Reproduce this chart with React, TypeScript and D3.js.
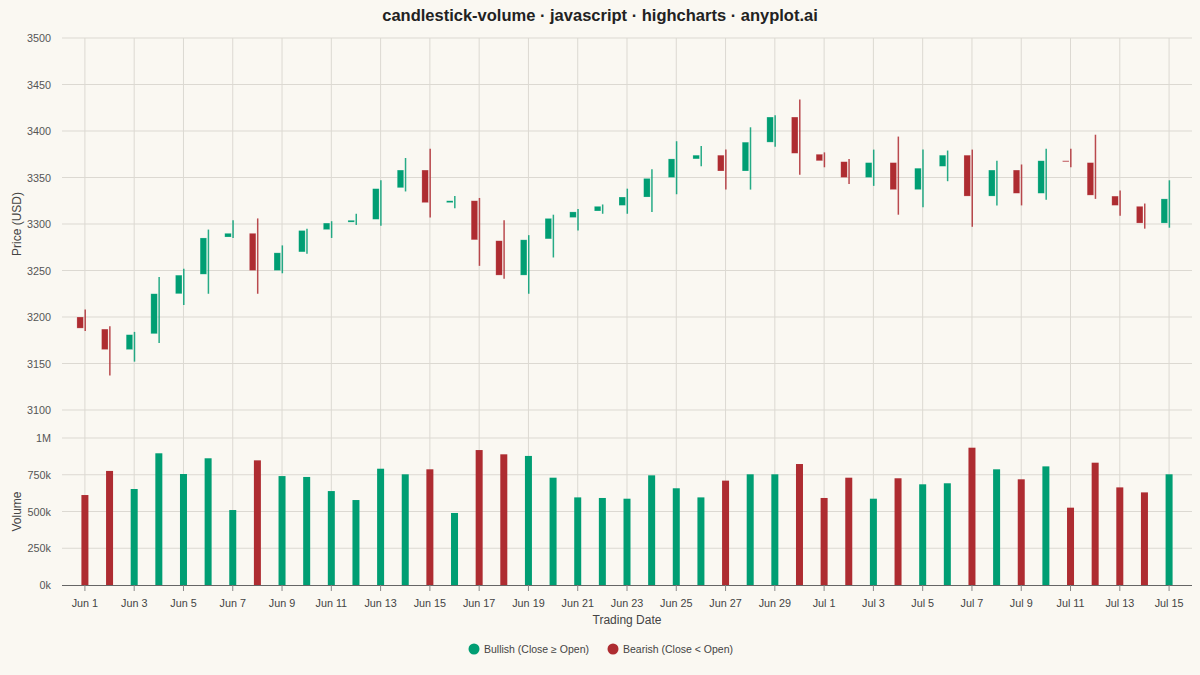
import React, { useEffect } from 'react';
import * as d3 from 'd3';

// Trading days, Jun 1 – Jul 15
const dates = [
  'Jun 1', 'Jun 2', 'Jun 3', 'Jun 4', 'Jun 5', 'Jun 6', 'Jun 7', 'Jun 8', 'Jun 9', 'Jun 10',
  'Jun 11', 'Jun 12', 'Jun 13', 'Jun 14', 'Jun 15', 'Jun 16', 'Jun 17', 'Jun 18', 'Jun 19', 'Jun 20',
  'Jun 21', 'Jun 22', 'Jun 23', 'Jun 24', 'Jun 25', 'Jun 26', 'Jun 27', 'Jun 28', 'Jun 29', 'Jun 30',
  'Jul 1', 'Jul 2', 'Jul 3', 'Jul 4', 'Jul 5', 'Jul 6', 'Jul 7', 'Jul 8', 'Jul 9', 'Jul 10',
  'Jul 11', 'Jul 12', 'Jul 13', 'Jul 14', 'Jul 15',
];

const open = [3200, 3187, 3165, 3182, 3225, 3246, 3286, 3290, 3250, 3270, 3294, 3302, 3305, 3339, 3358, 3323, 3325, 3282, 3245, 3284, 3307, 3314, 3320, 3329, 3350, 3370, 3374, 3357, 3388, 3415, 3375, 3367, 3350, 3366, 3337, 3362, 3374, 3330, 3358, 3333, 3368, 3366, 3330, 3319, 3301];
const high = [3208, 3190, 3184, 3243, 3252, 3294, 3304, 3306, 3277, 3295, 3303, 3311, 3347, 3371, 3381, 3330, 3328, 3304, 3288, 3310, 3316, 3321, 3338, 3359, 3389, 3384, 3380, 3404, 3417, 3434, 3377, 3370, 3380, 3394, 3380, 3379, 3380, 3368, 3364, 3381, 3381, 3396, 3336, 3322, 3347];
const low = [3185, 3137, 3152, 3172, 3213, 3225, 3285, 3225, 3247, 3268, 3285, 3299, 3298, 3335, 3307, 3317, 3255, 3241, 3225, 3264, 3293, 3311, 3311, 3313, 3332, 3362, 3337, 3337, 3383, 3353, 3361, 3343, 3341, 3310, 3318, 3346, 3297, 3320, 3320, 3326, 3361, 3327, 3309, 3295, 3296];
const close = [3188, 3165, 3181, 3225, 3245, 3285, 3290, 3250, 3269, 3293, 3301, 3304, 3338, 3358, 3323, 3325, 3283, 3245, 3283, 3306, 3313, 3319, 3329, 3349, 3370, 3374, 3357, 3388, 3415, 3376, 3368, 3350, 3366, 3337, 3360, 3374, 3330, 3358, 3333, 3368, 3367, 3331, 3320, 3301, 3327];
const volume = [612, 776, 653, 896, 755, 862, 510, 848, 741, 735, 639, 578, 791, 753, 787, 490, 918, 889, 878, 730, 596, 592, 587, 746, 658, 596, 710, 753, 753, 823, 592, 730, 587, 726, 685, 692, 934, 787, 719, 807, 526, 832, 664, 630, 753].map(v => v * 1000);

const priceTicks = [3100, 3150, 3200, 3250, 3300, 3350, 3400, 3450, 3500];
const volumeTicks = [0, 250000, 500000, 750000, 1000000];
const volumeLabels = ['0k', '250k', '500k', '750k', '1M'];

const BULL = '#009E73';
const BEAR = '#AE2C31';
const BG = '#FAF8F2';
const FONT = '"Liberation Sans", Arial, sans-serif';

const App: React.FC = () => {
  useEffect(() => {
    document.body.style.margin = '0';
    document.body.style.background = BG;
  }, []);

  const left = 62;
  const right = 1192;

  const x = d3.scaleLinear().domain([-0.93, dates.length - 1 + 0.93]).range([left, right]);
  const yPrice = d3.scaleLinear().domain([3100, 3500]).range([410, 38]);
  const yVol = d3.scaleLinear().domain([0, 1000000]).range([585, 438]);

  const tickIdx = dates.map((_, i) => i).filter(i => i % 2 === 0);

  return (
    <svg width={1200} height={675} style={{ display: 'block', background: BG, fontFamily: FONT }}>
      <text x={600} y={21} textAnchor="middle" fontSize={16.5} fontWeight="bold" fill="#222">
        candlestick-volume · javascript · highcharts · anyplot.ai
      </text>

      {/* vertical grid */}
      {tickIdx.map(i => (
        <line key={`vg${i}`} x1={x(i)} x2={x(i)} y1={38} y2={585} stroke="#dcd9d2" strokeWidth={1} />
      ))}

      {/* price grid + labels */}
      {priceTicks.map(t => (
        <g key={`pt${t}`}>
          <line x1={left} x2={right} y1={yPrice(t)} y2={yPrice(t)} stroke="#dcd9d2" strokeWidth={1} />
          <text x={51} y={yPrice(t) + 4} textAnchor="end" fontSize={10.8} fill="#555">{t}</text>
        </g>
      ))}

      {/* volume grid + labels */}
      {volumeTicks.map((t, k) => (
        <g key={`vt${t}`}>
          {t > 0 && <line x1={left} x2={right} y1={yVol(t)} y2={yVol(t)} stroke="#dcd9d2" strokeWidth={1} />}
          <text x={51} y={yVol(t) + 4} textAnchor="end" fontSize={10.8} fill="#555">{volumeLabels[k]}</text>
        </g>
      ))}

      <text transform={`translate(21,${(38 + 410) / 2}) rotate(-90)`} textAnchor="middle" fontSize={12} fill="#444">
        Price (USD)
      </text>
      <text transform={`translate(21,${(438 + 585) / 2}) rotate(-90)`} textAnchor="middle" fontSize={12} fill="#444">
        Volume
      </text>

      {/* candles */}
      {dates.map((d, i) => {
        const up = close[i] >= open[i];
        const c = up ? BULL : BEAR;
        const top = yPrice(Math.max(open[i], close[i]));
        const bot = yPrice(Math.min(open[i], close[i]));
        const cx = x(i);
        return (
          <g key={`c${i}`}>
            <line x1={cx + 0.3} x2={cx + 0.3} y1={yPrice(high[i])} y2={yPrice(low[i])} stroke={c} strokeWidth={1.5} strokeOpacity={0.85} />
            <rect x={cx - 8} y={top} width={6.5} height={Math.max(bot - top, 1)} fill={c} stroke="#ffffff" strokeOpacity={0.35} strokeWidth={0.6} />
          </g>
        );
      })}

      {/* volume bars */}
      {volume.map((v, i) => {
        const up = close[i] >= open[i];
        return (
          <rect key={`v${i}`} x={x(i) - 3.5} y={yVol(v)} width={7} height={yVol(0) - yVol(v)}
            fill={up ? BULL : BEAR} />
        );
      })}

      {/* x axis */}
      <line x1={left} x2={right} y1={585.5} y2={585.5} stroke="#666" strokeWidth={1} />
      {tickIdx.map(i => (
        <g key={`xt${i}`}>
          <line x1={x(i)} x2={x(i)} y1={585} y2={591} stroke="#888" strokeWidth={1} />
          <text x={x(i)} y={607} textAnchor="middle" fontSize={10.8} fill="#444">{dates[i]}</text>
        </g>
      ))}
      <text x={627} y={624} textAnchor="middle" fontSize={12} fill="#444">Trading Date</text>

      {/* legend */}
      <circle cx={474} cy={649} r={5.5} fill={BULL} />
      <text x={484} y={653} fontSize={10.5} fill="#444">Bullish (Close ≥ Open)</text>
      <circle cx={613} cy={649} r={5.5} fill={BEAR} />
      <text x={623} y={653} fontSize={10.5} fill="#444">Bearish (Close &lt; Open)</text>
    </svg>
  );
};

export default App;
